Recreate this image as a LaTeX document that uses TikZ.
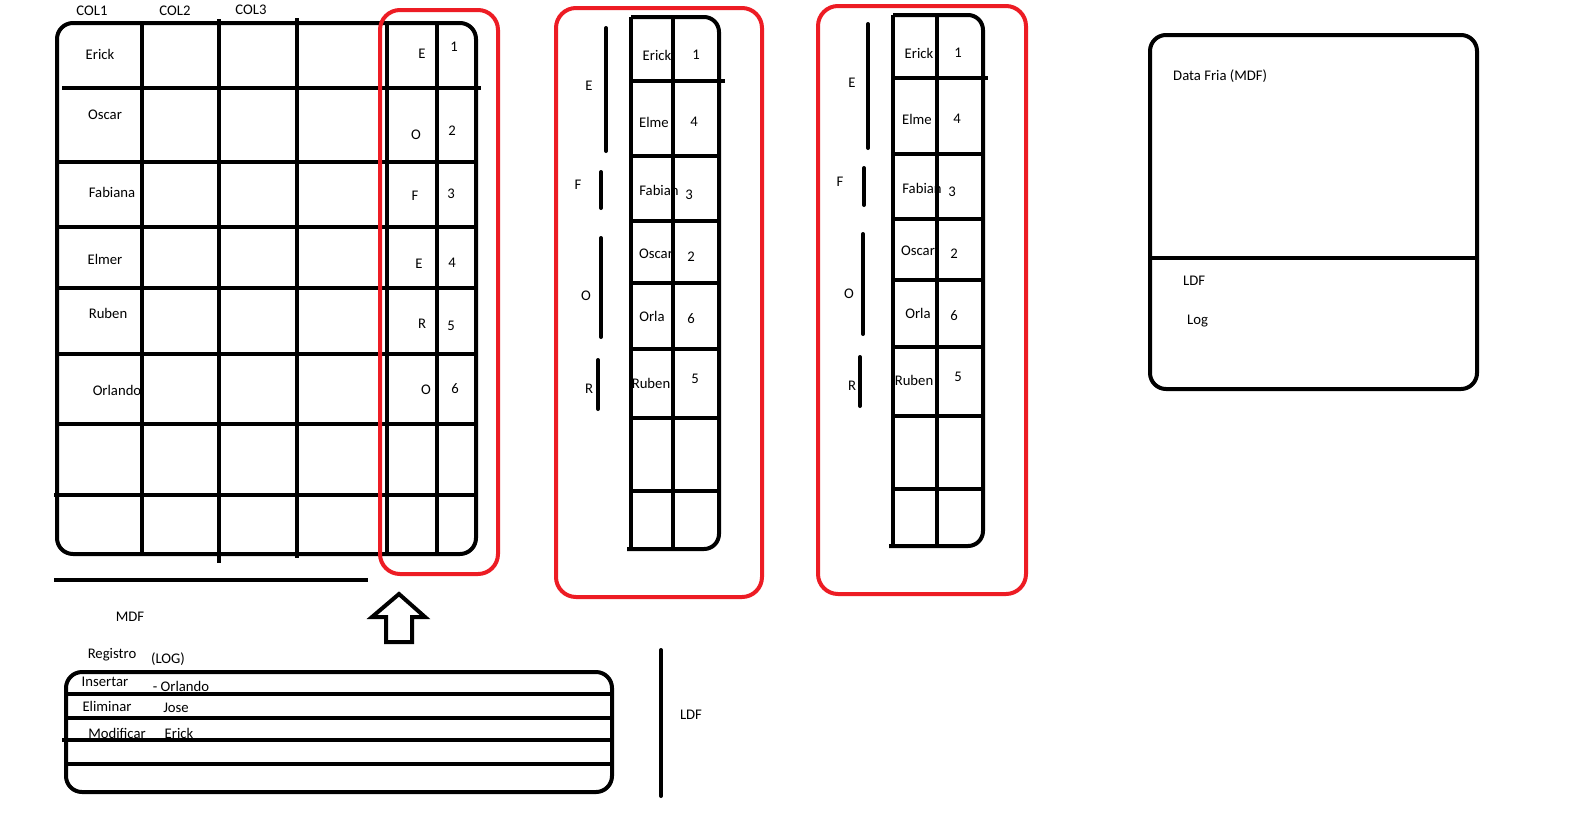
\documentclass[tikz,border=0pt]{standalone}
\usepackage{fontspec}
\setmainfont{Carlito}
\definecolor{pred}{RGB}{237,28,36}
\begin{document}
\begin{tikzpicture}[x=1pt,y=-1pt,
  ln/.style={line width=4pt,black},
  rd/.style={line width=4pt,pred,rounded corners=20pt},
  bar/.style={line width=4pt,line cap=round},
  txt/.style={inner sep=0pt,font=\fontsize{14.7}{16}\selectfont}]
\useasboundingbox[fill=white] (0,0) rectangle (1577,815);

% ---------- main grid: texts ----------
\node[txt] (col1) at (92,11) {COL1};
\node[txt] (col2) at (175,11) {COL2};
\node[txt] (col3) at (251,10) {COL3};
\node[txt] (m1) at (100,54) {Erick};
\node[txt] (m2) at (105,115) {Oscar};
\node[txt] (m3) at (112,192) {Fabiana};
\node[txt] (m4) at (105,259) {Elmer};
\node[txt] (m5) at (108,313) {Ruben};
\node[txt] (m6) at (117,390) {Orlando};
\node[txt] (ml1) at (422,54) {E};
\node[txt] (ml2) at (416,135) {O};
\node[txt] (ml3) at (415,196) {F};
\node[txt] (ml4) at (419,264) {E};
\node[txt] (ml5) at (422,324) {R};
\node[txt] (ml6) at (426,390) {O};
\node[txt] (mn1) at (454,47) {1};
\node[txt] (mn2) at (452,131) {2};
\node[txt] (mn3) at (451,194) {3};
\node[txt] (mn4) at (452,263) {4};
\node[txt] (mn5) at (451,326) {5};
\node[txt] (mn6) at (455,389) {6};

% ---------- main grid: lines ----------
\draw[ln,rounded corners=16pt] (57,23) rectangle (476,554);
\foreach \yy in {162,227,288,354,424} \draw[ln] (57,\yy) -- (476,\yy);
\draw[ln] (62,88) -- (481,88);
\draw[ln] (54,495) -- (476,495);
\draw[ln] (142,23) -- (142,554);
\draw[ln] (219,19) -- (219,563);
\draw[ln] (297,18) -- (297,558);
\draw[ln] (387,23) -- (387,554);
\draw[ln] (437,23) -- (437,554);
\draw[ln] (54,580) -- (368,580);
\draw[rd] (380,10) rectangle (498,574);

% ---------- up arrow ----------
\draw[line width=4pt,line join=miter] (386,642) -- (386,617) -- (372,617) -- (399,594) -- (425,617) -- (412,617) -- (412,642) -- cycle;

% ---------- grid 2 ----------
\node[txt] (b1) at (657,55) {Erick};
\node[txt] (b1n) at (696,55) {1};
\node[txt] (b2) at (654,122) {Elme};
\node[txt] (b2n) at (694,122) {4};
\node[txt] (b3) at (659,190) {Fabian};
\node[txt] (b3n) at (689,195) {3};
\node[txt] (b4) at (656,254) {Oscar};
\node[txt] (b4n) at (691,257) {2};
\node[txt] (b5) at (652,316) {Orla};
\node[txt] (b5n) at (691,319) {6};
\node[txt] (b6) at (651,383) {Ruben};
\node[txt] (b6n) at (695,379) {5};
\draw[ln] (631,17) -- (631,549);
\draw[ln] (673,17) -- (673,549);
\draw[ln,rounded corners=15pt] (631,17) -- (719,17) -- (719,549) -- (627,549);
\draw[ln] (631,81) -- (725,81);
\foreach \yy in {156,221,283,349,418,491} \draw[ln] (631,\yy) -- (719,\yy);
\draw[bar] (606,28) -- (606,151);
\draw[bar] (601,172) -- (601,208);
\draw[bar] (601,238) -- (601,337);
\draw[bar] (598,360) -- (598,409);
\node[txt] (bl1) at (589,86) {E};
\node[txt] (bl2) at (578,185) {F};
\node[txt] (bl3) at (586,296) {O};
\node[txt] (bl4) at (589,389) {R};
\draw[rd] (556,8) rectangle (762,597);

% ---------- grid 3 ----------
\node[txt] (c1) at (919,53) {Erick};
\node[txt] (c1n) at (958,53) {1};
\node[txt] (c2) at (917,119) {Elme};
\node[txt] (c2n) at (957,119) {4};
\node[txt] (c3) at (922,188) {Fabian};
\node[txt] (c3n) at (952,192) {3};
\node[txt] (c4) at (918,251) {Oscar};
\node[txt] (c4n) at (954,254) {2};
\node[txt] (c5) at (918,313) {Orla};
\node[txt] (c5n) at (954,316) {6};
\node[txt] (c6) at (914,380) {Ruben};
\node[txt] (c6n) at (958,377) {5};
\draw[ln] (893,15) -- (893,546);
\draw[ln] (937,15) -- (937,546);
\draw[ln,rounded corners=15pt] (893,15) -- (983,15) -- (983,546) -- (889,546);
\draw[ln] (893,78) -- (988,78);
\foreach \yy in {154,219,280,347,416,489} \draw[ln] (893,\yy) -- (983,\yy);
\draw[bar] (868,24) -- (868,148);
\draw[bar] (864,168) -- (864,205);
\draw[bar] (863,234) -- (863,334);
\draw[bar] (860,357) -- (860,406);
\node[txt] (cl1) at (852,83) {E};
\node[txt] (cl2) at (840,182) {F};
\node[txt] (cl3) at (849,294) {O};
\node[txt] (cl4) at (852,386) {R};
\draw[rd] (818,6) rectangle (1026,594);

% ---------- right box ----------
\draw[ln,rounded corners=16pt] (1150,35) rectangle (1477,389);
\draw[ln] (1150,258) -- (1477,258);
\node[txt,anchor=west] (df) at (1173,76) {Data Fria (MDF)};
\node[txt,anchor=west] (ldf2) at (1183,281) {LDF};
\node[txt,anchor=west] (log2) at (1187,321) {Log};

% ---------- bottom: log table ----------
\node[txt] (mdf) at (130,617) {MDF};
\node[txt] (reg) at (112,655) {Registro};
\node[txt] (lg) at (168,659) {(LOG)};
\node[txt] (ins) at (105,682) {Insertar};
\node[txt] (orl) at (181,686) {- Orlando};
\node[txt] (eli) at (107,706) {Eliminar};
\node[txt] (jose) at (176,708) {Jose};
\node[txt] (mod) at (117,733) {Modificar};
\node[txt] (eri) at (179,733) {Erick};
\draw[ln,rounded corners=16pt] (66,672) rectangle (612,792);
\draw[ln] (66,694) -- (612,694);
\draw[ln] (66,718) -- (612,718);
\draw[ln] (62,740) -- (612,740);
\draw[ln] (66,764) -- (612,764);
\draw[bar] (661,650) -- (661,796);
\node[txt] (ldf) at (691,715) {LDF};
\end{tikzpicture}
\end{document}
